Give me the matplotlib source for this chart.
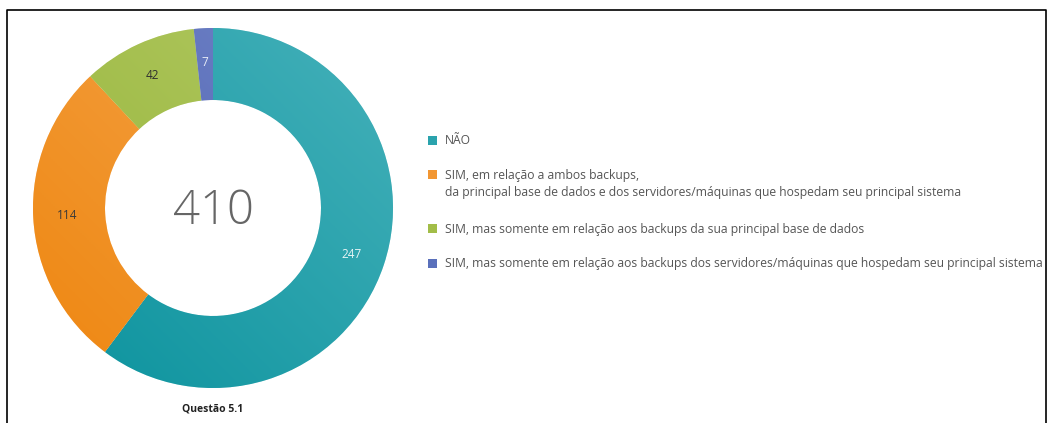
import numpy as np
import matplotlib.pyplot as plt
from matplotlib.lines import Line2D
from matplotlib.patches import Rectangle
from matplotlib.colors import LinearSegmentedColormap

# dados
categorias = ['NÃO',
              'SIM, em relação a ambos backups,\nda principal base de dados e dos servidores/máquinas que hospedam seu principal sistema',
              'SIM, mas somente em relação aos backups da sua principal base de dados',
              'SIM, mas somente em relação aos backups dos servidores/máquinas que hospedam seu principal sistema']
valores = [247, 114, 42, 7]
cores = ['#2aa3ad', '#f29632', '#a2bd48', '#5a70bb']
cores_claras = ['#45b1ba', '#f5a64f', '#b3c963', '#7386c8']
cores_escuras = ['#0a929d', '#ee860f', '#93b336', '#4459ad']
cor_rotulo = ['#e6f4f5', '#3a3a3a', '#2f2f2f', '#e8ecf7']
titulo = 'Questão 5.1'

plt.rcParams['font.family'] = ['Open Sans', 'DejaVu Sans']

W, H = 1049, 423
fig = plt.figure(figsize=(W / 100, H / 100), dpi=100)

# eixo do donut: centro (213, 208), raio 180 px
cx, cy, R = 213, 208, 180
ax = fig.add_axes([(cx - R) / W, (H - cy - R) / H, 2 * R / W, 2 * R / H])
wedges, _ = ax.pie(valores, colors=cores, startangle=90, counterclock=False,
                   radius=1, wedgeprops=dict(width=0.4, edgecolor='white', linewidth=0.4))

# gradiente em cada fatia (claro em cima/direita, escuro embaixo/esquerda)
gy, gx = np.mgrid[1:-1:200j, -1:1:200j]
grad = (gy + gx) / 4 + 0.5
for w, c1, c2 in zip(wedges, cores_claras, cores_escuras):
    cmap = LinearSegmentedColormap.from_list('g', [c2, c1])
    im = ax.imshow(grad, cmap=cmap, extent=(-1, 1, -1, 1), vmin=0, vmax=1,
                   interpolation='bilinear', zorder=w.get_zorder() + 0.1)
    im.set_clip_path(w)

total = sum(valores)
ang = 90.0
for v, cor in zip(valores, cor_rotulo):
    meio = np.deg2rad(ang - v / total * 180)
    ax.text(0.81 * np.cos(meio), 0.81 * np.sin(meio), str(v), ha='center', va='center',
            fontsize=8.5, color=cor, zorder=5)
    ang -= v / total * 360

ax.text(0, -0.02, str(total), ha='center', va='center', fontsize=34, color='#666666',
        fontweight='light', zorder=5)
ax.set_xlim(-1, 1)
ax.set_ylim(-1, 1)
ax.set_aspect('equal')
ax.axis('off')

# legenda
y = 141
for lab, c in zip(categorias, cores):
    fig.patches.append(Rectangle((428 / W, 1 - (y + 4.5) / H), 9 / W, 9 / H,
                                 transform=fig.transFigure, facecolor=c, edgecolor='none'))
    linhas = lab.split('\n')
    for i, linha in enumerate(linhas):
        fig.text(445 / W, 1 - (y + 17 * i) / H, linha, ha='left', va='center',
                 fontsize=8.7, color='#555555')
    y += 34 + 20 * (len(linhas) - 1)

fig.text(cx / W, 1 - 409 / H, titulo, ha='center', va='center', fontsize=7.5,
         fontweight='bold', color='#222222')

# moldura
fig.add_artist(Line2D([7 / W, 7 / W, 1046 / W, 1046 / W], [0, 1 - 10 / H, 1 - 10 / H, 0],
                      transform=fig.transFigure, color='black', linewidth=1.2))

fig.savefig('out.png', dpi=100)
